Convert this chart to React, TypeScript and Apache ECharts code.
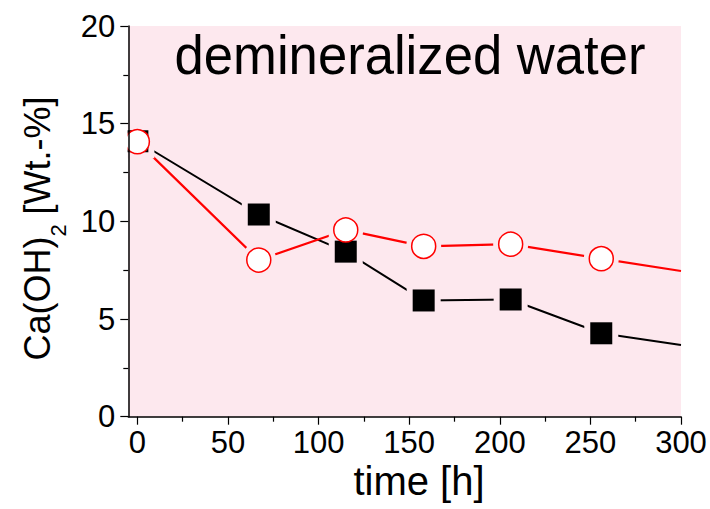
import React, { useEffect, useRef } from "react";
import * as echarts from "echarts";

const timeH = [0, 67, 115, 158, 206, 256, 300];
const seriesBlack = [14.1, 10.35, 8.45, 5.95, 6.0, 4.27, 3.67];
const seriesRed = [14.08, 8.02, 9.56, 8.72, 8.83, 8.09, 7.46];
const markerCount = 6; // last point (300 h) is the line's continuation, no marker
const xMajorTicks = [0, 50, 100, 150, 200, 250, 300];
const xMinorTicks = [25, 75, 125, 175, 225, 275];
const titleText = "demineralized water";
const xName = "time [h]";

const FONT = "Liberation Sans, Arial, sans-serif";
const PINK = "#fde8ee";

export default function App() {
  const ref = useRef<HTMLDivElement>(null);
  useEffect(() => {
    if (!ref.current) return;
    const chart = echarts.init(ref.current, null, { renderer: "svg" });
    const pairs = (vals: number[]) => timeH.map((t, i) => [t, vals[i]]);
    const markerPairs = (vals: number[]) => pairs(vals).slice(0, markerCount);
    chart.setOption({
      animation: false,
      backgroundColor: "#ffffff",
      grid: {
        left: 128.3,
        right: 29,
        top: 26,
        bottom: 92.3,
        show: true,
        backgroundColor: PINK,
        borderWidth: 0,
      },
      xAxis: [
        {
          type: "value",
          min: -5,
          max: 300,
          z: 10,
          axisLine: { show: true, onZero: false, lineStyle: { color: "#000", width: 1.5 } },
          axisTick: { show: true, length: 8, customValues: xMajorTicks, lineStyle: { color: "#000", width: 1.2 } },
          axisLabel: {
            show: true,
            customValues: xMajorTicks,
            fontSize: 31,
            fontFamily: FONT,
            color: "#000",
            margin: 10,
          },
          splitLine: { show: false },
        },
        {
          type: "value",
          min: -5,
          max: 300,
          position: "bottom",
          z: 10,
          axisLine: { show: false, onZero: false },
          axisTick: { show: true, length: 5, customValues: xMinorTicks, lineStyle: { color: "#000", width: 1.2 } },
          axisLabel: { show: false },
          splitLine: { show: false },
        },
      ],
      yAxis: {
        type: "value",
        min: 0,
        max: 20,
        interval: 5,
        z: 10,
        axisLine: { show: true, onZero: false, lineStyle: { color: "#000", width: 1.5 } },
        axisTick: { show: true, length: 8, lineStyle: { color: "#000", width: 1.2 } },
        minorTick: { show: true, splitNumber: 2, length: 5, lineStyle: { color: "#000", width: 1.2 } },
        axisLabel: { fontSize: 31, fontFamily: FONT, color: "#000", margin: 13 },
        splitLine: { show: false },
        minorSplitLine: { show: false },
      },
      series: [
        {
          type: "line",
          data: pairs(seriesBlack),
          showSymbol: false,
          symbol: "none",
          lineStyle: { color: "#000", width: 2 },
          z: 2,
          silent: true,
        },
        {
          type: "line",
          data: pairs(seriesRed),
          showSymbol: false,
          symbol: "none",
          lineStyle: { color: "#ff0000", width: 2.2 },
          z: 2,
          silent: true,
        },
        {
          type: "scatter",
          data: markerPairs(seriesBlack),
          symbol: "rect",
          symbolSize: 34,
          itemStyle: { color: PINK, opacity: 1 },
          z: 3,
          silent: true,
        },
        {
          type: "scatter",
          data: markerPairs(seriesRed),
          symbol: "circle",
          symbolSize: 35,
          itemStyle: { color: PINK, opacity: 1 },
          z: 3,
          silent: true,
        },
        {
          type: "scatter",
          data: markerPairs(seriesBlack),
          symbol: "rect",
          symbolSize: 22,
          itemStyle: { color: "#000", opacity: 1 },
          z: 4,
          silent: true,
        },
        {
          type: "scatter",
          data: markerPairs(seriesRed),
          symbol: "circle",
          symbolSize: 24,
          itemStyle: { color: "#fff", borderColor: "#ff0000", borderWidth: 1.5, opacity: 1 },
          z: 5,
          silent: true,
        },
      ],
      graphic: [
        {
          type: "rect",
          z: 6,
          silent: true,
          shape: { x: 117, y: 100, width: 10.6, height: 90 },
          style: { fill: "#ffffff" },
        },
        {
          type: "text",
          x: 410,
          y: 55,
          scaleX: 0.94,
          z: 10,
          style: {
            text: titleText,
            fontSize: 56,
            fontFamily: FONT,
            fill: "#000",
            align: "center",
            verticalAlign: "middle",
          },
        },
        {
          type: "text",
          x: 419,
          y: 481,
          z: 10,
          style: {
            text: xName,
            fontSize: 40,
            fontFamily: FONT,
            fill: "#000",
            align: "center",
            verticalAlign: "middle",
          },
        },
        {
          type: "text",
          x: 19.5,
          y: 228.5,
          rotation: Math.PI / 2,
          z: 10,
          style: {
            text: "{a|Ca(OH)}{b|2}{a| [Wt.-%]}",
            fontFamily: FONT,
            fill: "#000",
            align: "center",
            verticalAlign: "top",
            rich: {
              a: { fontSize: 36, lineHeight: 36, verticalAlign: "top", fontFamily: FONT, fill: "#000" },
              b: { fontSize: 22, lineHeight: 22, verticalAlign: "top", padding: [28, 0, 0, 0], fontFamily: FONT, fill: "#000" },
            },
          },
        },
      ],
    });
    return () => chart.dispose();
  }, []);
  return (
    <div
      ref={ref}
      style={{ position: "absolute", left: 0, top: 0, width: 710, height: 509 }}
    />
  );
}
